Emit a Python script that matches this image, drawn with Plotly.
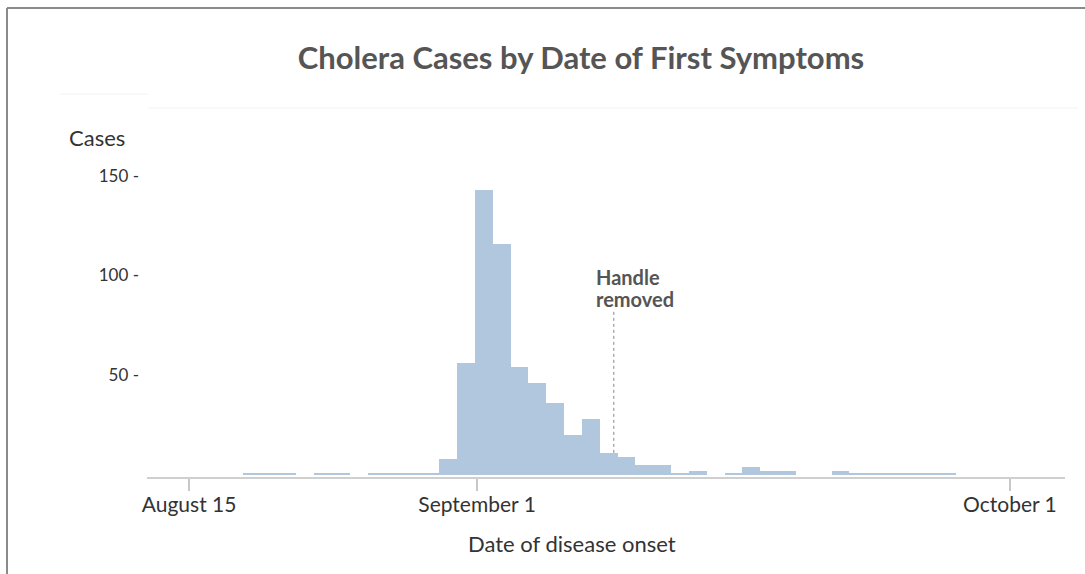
import plotly.graph_objects as go

# Daily cholera cases (fatal attacks) by date of first symptoms, 1854
dates = [
    "1854-08-19", "1854-08-20", "1854-08-21", "1854-08-22", "1854-08-23",
    "1854-08-24", "1854-08-25", "1854-08-26", "1854-08-27", "1854-08-28",
    "1854-08-29", "1854-08-30", "1854-08-31", "1854-09-01", "1854-09-02",
    "1854-09-03", "1854-09-04", "1854-09-05", "1854-09-06", "1854-09-07",
    "1854-09-08", "1854-09-09", "1854-09-10", "1854-09-11", "1854-09-12",
    "1854-09-13", "1854-09-14", "1854-09-15", "1854-09-16", "1854-09-17",
    "1854-09-18", "1854-09-19", "1854-09-20", "1854-09-21", "1854-09-22",
    "1854-09-23", "1854-09-24", "1854-09-25", "1854-09-26", "1854-09-27",
    "1854-09-28", "1854-09-29", "1854-09-30",
]
cases = [
    1, 1, 1, 0, 1,
    1, 0, 1, 1, 1,
    1, 8, 56, 143, 116,
    54, 46, 36, 20, 28,
    11, 9, 5, 5, 1,
    2, 0, 1, 4, 2,
    2, 0, 0, 2, 1,
    1, 1, 1, 1, 1,
    0, 0, 0,
]

x_tick_vals = ["1854-08-15T23:30", "1854-09-01T03:00", "1854-10-01T00:00"]
x_tick_text = ["August 15", "September 1", "October 1"]
y_tick_vals = [50, 100, 150]
y_tick_text = ["50 -", "100 -", "150 -"]

handle_date = "1854-09-08T19:00"
handle_y = [11, 83]

bar_x = [d + "T12:00" for d in dates]

FONT = "Lato"

fig = go.Figure()
fig.add_trace(go.Bar(
    x=bar_x, y=cases, width=86400000,
    marker=dict(color="#b1c7de", line=dict(width=0)),
    hoverinfo="x+y", showlegend=False,
))

L, R, T, B = 147, 20, 160, 97
W, H = 1085, 574
pw, ph = W - L - R, H - T - B


def px(xp):
    return (xp - L) / pw


def py(yp):
    return (H - B - yp) / ph


fig.update_layout(
    width=W, height=H,
    margin=dict(l=L, r=R, t=T, b=B),
    paper_bgcolor="white", plot_bgcolor="white",
    bargap=0,
    font=dict(family=FONT, color="#333"),
    title=dict(text="Cholera Cases by Date of First Symptoms",
               x=581 / W, xanchor="center", y=1 - 58 / H, yanchor="middle",
               font=dict(family=FONT, size=31, color="#555", weight="bold")),
    xaxis=dict(
        type="date",
        range=["1854-08-13T14:50", "1854-10-04T02:10"],
        tickvals=x_tick_vals, ticktext=x_tick_text,
        ticks="outside", ticklen=12, tickcolor="#c8c8c8", tickwidth=2,
        showline=True, linecolor="#cfcfcf", linewidth=2,
        showgrid=False, zeroline=False,
        tickfont=dict(family=FONT, size=21, color="#333"),
        ticklabelstandoff=-4,
    ),
    yaxis=dict(
        range=[-1.1, 157.96],
        tickvals=y_tick_vals, ticktext=y_tick_text,
        ticks="", showline=False, showgrid=False, zeroline=False,
        tickfont=dict(family=FONT, size=17, color="#333"),
        ticklabelstandoff=7,
    ),
    annotations=[
        dict(text="Cases", xref="paper", yref="paper", x=px(67), y=py(137),
             xanchor="left", yanchor="middle", showarrow=False,
             font=dict(family=FONT, size=22, color="#333")),
        dict(text="Date of disease onset", xref="paper", yref="paper",
             x=px(572), y=py(543), xanchor="center", yanchor="middle",
             showarrow=False, font=dict(family=FONT, size=22, color="#333")),
        dict(text="Handle", xref="x", yref="paper",
             x="1854-09-07T16:30", y=py(277), xanchor="left", yanchor="middle",
             align="left", showarrow=False,
             font=dict(family=FONT, size=20, color="#555", weight="bold")),
        dict(text="removed", xref="x", yref="paper",
             x="1854-09-07T16:30", y=py(299), xanchor="left", yanchor="middle",
             align="left", showarrow=False,
             font=dict(family=FONT, size=20, color="#555", weight="bold")),
    ],
    shapes=[
        dict(type="line", xref="x", yref="y", x0=handle_date, x1=handle_date,
             y0=handle_y[0], y1=handle_y[1],
             line=dict(color="#888", width=1, dash="dot")),
        # outer frame (left and top)
        dict(type="line", xref="paper", yref="paper", x0=px(7), x1=px(7),
             y0=py(8), y1=py(H), line=dict(color="#8a8a8a", width=2)),
        dict(type="line", xref="paper", yref="paper", x0=px(7), x1=px(W),
             y0=py(8), y1=py(8), line=dict(color="#8a8a8a", width=2)),
        # faint separator lines
        dict(type="line", xref="paper", yref="paper", x0=px(148), x1=px(1078),
             y0=py(108), y1=py(108), line=dict(color="#f2f2f2", width=1)),
        dict(type="line", xref="paper", yref="paper", x0=px(60), x1=px(148),
             y0=py(94), y1=py(94), line=dict(color="#f2f2f2", width=1)),
    ],
)

fig.write_html("out.html",
               config={"displayModeBar": False},
               post_script="document.body.style.margin='0';"
                           "document.body.style.overflow='hidden';")
